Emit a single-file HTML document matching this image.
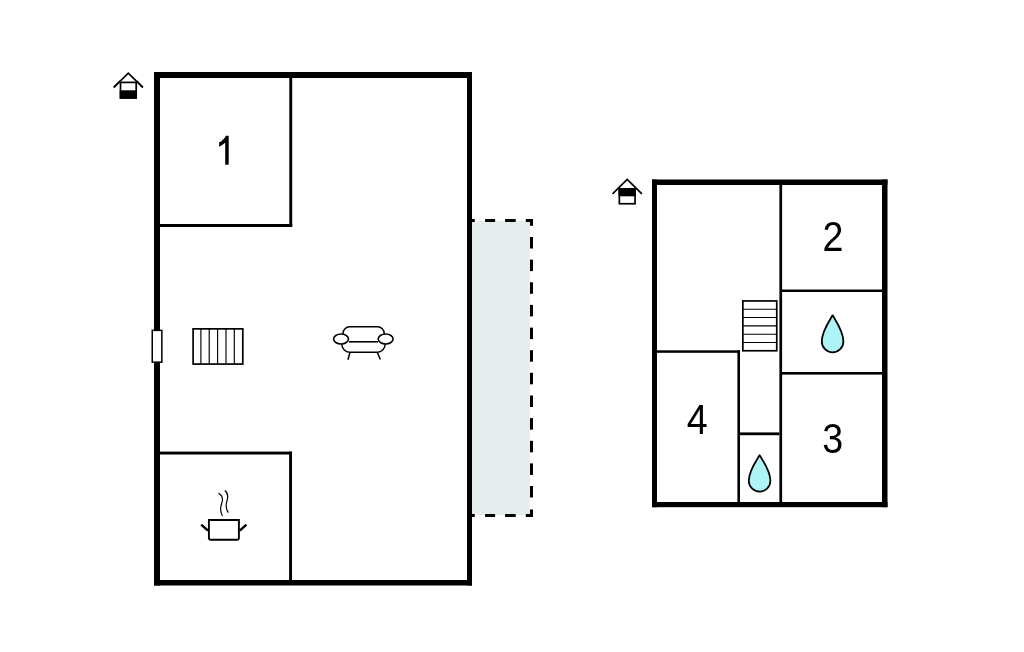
<!DOCTYPE html>
<html><head><meta charset="utf-8">
<style>
html,body{margin:0;padding:0;background:#fff;width:1024px;height:652px;overflow:hidden}
svg{position:absolute;left:0;top:0;display:block}
text{font-family:"Liberation Sans",sans-serif}
svg{will-change:transform}
</style></head>
<body>
<svg width="1024" height="652" viewBox="0 0 1024 652">
<rect x="0" y="0" width="1024" height="652" fill="#fff"/>

<!-- ===== Building 1 ===== -->
<!-- terrace fill -->
<rect x="472" y="221" width="58" height="294" fill="#e6eded"/>
<g fill="#000">
  <!-- top dashes -->
  <rect x="472" y="219" width="2.8" height="3"/>
  <rect x="485.1" y="219" width="10" height="3"/>
  <rect x="505.1" y="219" width="10.6" height="3"/>
  <rect x="525.8" y="219" width="7.2" height="3"/>
  <rect x="530" y="219" width="3" height="6.8"/>
  <!-- bottom dashes -->
  <rect x="472" y="514" width="2.8" height="3"/>
  <rect x="485.1" y="514" width="10" height="3"/>
  <rect x="505.1" y="514" width="10.6" height="3"/>
  <rect x="525.8" y="514" width="7.2" height="3"/>
  <rect x="530" y="509.5" width="3" height="7.5"/>
  <!-- vertical dashes -->
  <rect x="530" y="237" width="3" height="11.5"/>
  <rect x="530" y="259.6" width="3" height="11.5"/>
  <rect x="530" y="282.3" width="3" height="11.5"/>
  <rect x="530" y="304.9" width="3" height="11.5"/>
  <rect x="530" y="327.6" width="3" height="11.5"/>
  <rect x="530" y="350.2" width="3" height="11.5"/>
  <rect x="530" y="372.8" width="3" height="11.5"/>
  <rect x="530" y="395.5" width="3" height="11.5"/>
  <rect x="530" y="418.1" width="3" height="11.5"/>
  <rect x="530" y="440.8" width="3" height="11.5"/>
  <rect x="530" y="463.4" width="3" height="11.5"/>
  <rect x="530" y="486" width="3" height="11.5"/>
</g>

<g fill="#000">
  <!-- outer walls -->
  <rect x="154" y="72" width="318" height="6"/>
  <rect x="154" y="72" width="6" height="513.5"/>
  <rect x="467" y="72" width="5" height="513.5"/>
  <rect x="154" y="580" width="318" height="5.5"/>
  <!-- interior walls -->
  <rect x="289.3" y="78" width="2.9" height="149"/>
  <rect x="160" y="224" width="132.2" height="3"/>
  <rect x="160" y="451.6" width="132" height="2.9"/>
  <rect x="289.1" y="451.6" width="2.9" height="128.4"/>
</g>

<!-- window -->
<rect x="152.25" y="330.35" width="9.6" height="31.8" fill="#fff" stroke="#000" stroke-width="1.5"/>

<!-- stairs 1 -->
<rect x="193.1" y="328.85" width="49.7" height="35.2" fill="#fff" stroke="#000" stroke-width="1.7"/>
<g stroke="#000" stroke-width="1.15" fill="none">
  <line x1="200.9" y1="329" x2="200.9" y2="363.5"/>
  <line x1="209.2" y1="329" x2="209.2" y2="363.5"/>
  <line x1="217.6" y1="329" x2="217.6" y2="363.5"/>
  <line x1="226" y1="329" x2="226" y2="363.5"/>
  <line x1="234.3" y1="329" x2="234.3" y2="363.5"/>
</g>

<!-- sofa -->
<g stroke="#000" stroke-width="1.5" fill="none" stroke-linecap="butt">
  <path d="M343 335 L343 333.5 A6.6 6.7 0 0 1 349.6 326.8 L377.6 326.8 A6.6 6.7 0 0 1 384.2 333.5 L384.2 335"/>
  <line x1="349" y1="341.8" x2="378" y2="341.8" stroke-width="1.6"/>
  <path d="M341.8 344 A7.8 8.2 0 0 0 349.6 352.2 L377.4 352.2 A7.8 8.2 0 0 0 385.2 344"/>
  <line x1="349.9" y1="352.7" x2="348.1" y2="359.2" stroke-linecap="round"/>
  <line x1="377.5" y1="352.7" x2="380.1" y2="359.0" stroke-linecap="round"/>
</g>
<g stroke="#000" stroke-width="1.6" fill="#fff">
  <ellipse cx="341.05" cy="339" rx="7.45" ry="4.95"/>
  <ellipse cx="385.65" cy="339" rx="7.45" ry="4.95"/>
</g>

<!-- pot -->
<g stroke="#000" fill="none">
  <path d="M208.9 520 L238.9 520 L238.9 538 A1.8 1.8 0 0 1 237.1 539.8 L210.7 539.8 A1.8 1.8 0 0 1 208.9 538 Z" stroke-width="1.9" fill="#fff"/>
  <line x1="201.2" y1="524.6" x2="208" y2="530.6" stroke-width="2.5" stroke-linecap="butt"/>
  <line x1="239.8" y1="530.6" x2="246.4" y2="524.6" stroke-width="2.5" stroke-linecap="butt"/>
  <path d="M218.5 493.3 C221.5 495 222.8 497.5 222.4 500.5 C222 503.5 220.4 506 220.6 509 C220.8 512 221.5 514.5 222.5 516" stroke-width="1.2"/>
  <path d="M224.8 490.4 C227 492 228 495 227.6 498 C227.2 501 226 503 226.2 506 C226.4 509 227 511 228.4 512.6" stroke-width="1.2"/>
</g>

<!-- label 1 -->
<path d="M228.7 135.8 L228.7 164.7 L225.2 164.7 L225.2 142.6 C223.6 144.3 221.6 145.6 219.1 146.7 L219.1 142.5 C222.3 141 224.6 138.6 225.9 135.8 Z" fill="#000"/>

<!-- house icon 1 (ground floor) -->
<g stroke="#000" fill="none">
  <polyline points="113.8,87.4 128.3,73.2 142.8,87.4" stroke-width="1.7"/>
  <rect x="120.5" y="82.4" width="15.7" height="15.5" stroke-width="1.7" fill="#fff"/>
</g>
<rect x="119.7" y="90.3" width="17.3" height="8.4" fill="#000"/>
<polyline points="113.8,87.4 120.2,81" stroke="#000" stroke-width="1.7" fill="none"/>
<polyline points="136.6,81 142.8,87.4" stroke="#000" stroke-width="1.7" fill="none"/>

<!-- ===== Building 2 ===== -->
<g fill="#000">
  <rect x="652" y="179.5" width="235.5" height="5.5"/>
  <rect x="652" y="179.5" width="5" height="327.7"/>
  <rect x="882" y="179.5" width="5.5" height="327.7"/>
  <rect x="652" y="502" width="235.5" height="5.2"/>
  <rect x="779.4" y="185" width="2.7" height="317"/>
  <rect x="782" y="289.5" width="100" height="2.5"/>
  <rect x="782" y="372" width="100" height="2.6"/>
  <rect x="657" y="350.3" width="83" height="2.5"/>
  <rect x="737.4" y="350.3" width="2.6" height="151.7"/>
  <rect x="740" y="432.4" width="39.4" height="2.8"/>
</g>

<!-- stairs 2 -->
<rect x="742.85" y="300.95" width="33.9" height="49.8" fill="#fff" stroke="#000" stroke-width="1.7"/>
<g stroke="#000" stroke-width="1.15" fill="none">
  <line x1="743" y1="309.2" x2="777" y2="309.2"/>
  <line x1="743" y1="317.5" x2="777" y2="317.5"/>
  <line x1="743" y1="325.9" x2="777" y2="325.9"/>
  <line x1="743" y1="334.25" x2="777" y2="334.25"/>
  <line x1="743" y1="342.5" x2="777" y2="342.5"/>
</g>

<!-- drops -->
<path d="M832.6 315.3 C836.6 322 843.4 331.6 843.4 341.5 A10.8 10.8 0 0 1 821.8 341.5 C821.8 331.6 828.6 322 832.6 315.3 Z" fill="#aef4f7" stroke="#000" stroke-width="1.75" stroke-linejoin="round"/>
<path d="M759.6 455.2 C763.6 461.9 770.4 470.9 770.4 480.8 A10.8 10.8 0 0 1 748.8 480.8 C748.8 470.9 755.6 461.9 759.6 455.2 Z" fill="#aef4f7" stroke="#000" stroke-width="1.75" stroke-linejoin="round"/>

<!-- labels -->
<text transform="translate(822.5 251.1) scale(0.885 1)" font-size="42.5" fill="#000">2</text>
<text transform="translate(822.3 452.9) scale(0.885 1)" font-size="42.5" fill="#000">3</text>
<text transform="translate(686.7 433.6) scale(0.885 1)" font-size="42.5" fill="#000">4</text>

<!-- house icon 2 (upper floor) -->
<g stroke="#000" fill="none">
  <polyline points="612.5,193.9 627.2,179.4 641.9,193.9" stroke-width="1.7"/>
  <rect x="619.35" y="188.85" width="15.7" height="14.9" stroke-width="1.7" fill="#fff"/>
</g>
<rect x="618.5" y="188" width="17.4" height="8.3" fill="#000"/>
</svg>
</body></html>
